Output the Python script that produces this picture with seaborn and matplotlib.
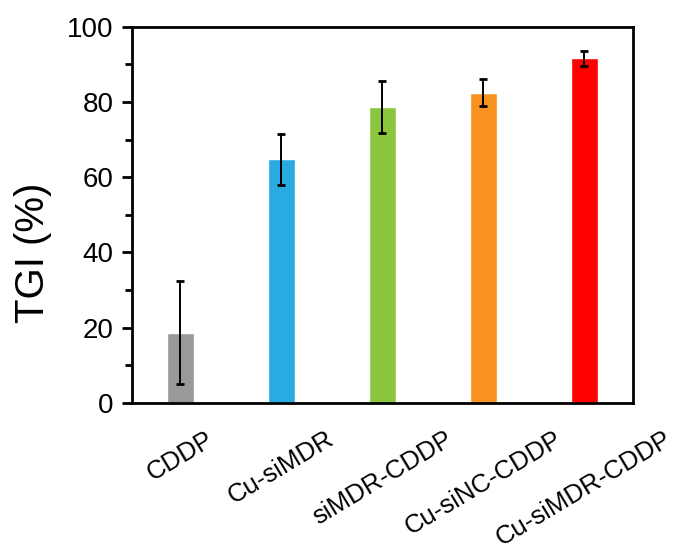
import matplotlib
matplotlib.use("Agg")
import matplotlib.pyplot as plt
import seaborn as sns
import pandas as pd
from matplotlib.ticker import MultipleLocator

# ─── Data ───────────────────────────────────────────────────────────────────
groups = ["CDDP", "Cu-siMDR", "siMDR-CDDP", "Cu-siNC-CDDP", "Cu-siMDR-CDDP"]
tgi = [18.7, 64.7, 78.6, 82.4, 91.6]
tgi_err = [13.6, 6.8, 6.9, 3.6, 2.0]
colors = ["#999999", "#29ABE2", "#8CC63F", "#F7931E", "#FF0000"]

df = pd.DataFrame({"group": groups, "tgi": tgi})

sns.set_style("ticks")
plt.rcParams["font.family"] = ["Liberation Sans", "DejaVu Sans"]
plt.rcParams.update({"text.color": "black", "axes.labelcolor": "black",
                     "xtick.color": "black", "ytick.color": "black"})

fig = plt.figure(figsize=(6.9, 5.53), dpi=100)
ax = fig.add_axes([0.191, 0.271, 0.726, 0.681])

sns.barplot(data=df, x="group", y="tgi", hue="group", palette=colors,
            order=groups, hue_order=groups, legend=False, width=0.264,
            saturation=1, errorbar=None, ax=ax)
ax.errorbar(range(len(groups)), tgi, yerr=tgi_err, fmt="none",
            ecolor="black", elinewidth=1.4, capsize=3, capthick=2)

ax.set_xlim(-0.48, 4.48)
ax.set_ylim(0, 100)
ax.yaxis.set_major_locator(MultipleLocator(20))
ax.yaxis.set_minor_locator(MultipleLocator(10))
ax.tick_params(axis="y", which="major", direction="out", length=7, width=2,
               labelsize=20, pad=6)
ax.tick_params(axis="y", which="minor", direction="out", length=5, width=2)
ax.tick_params(axis="x", length=0, labelsize=18.5, pad=17)
ax.set_xticks(range(len(groups)))
ax.set_xticklabels(groups, rotation=31, ha="center", va="top")

ax.set_xlabel("")
ax.set_ylabel("TGI (%)", fontsize=29)
ax.yaxis.set_label_coords(-0.16, 0.40)
for sp in ax.spines.values():
    sp.set_visible(True)
    sp.set_linewidth(2.0)
    sp.set_color("black")

fig.savefig("out.png", dpi=100, facecolor="white")
plt.close()
